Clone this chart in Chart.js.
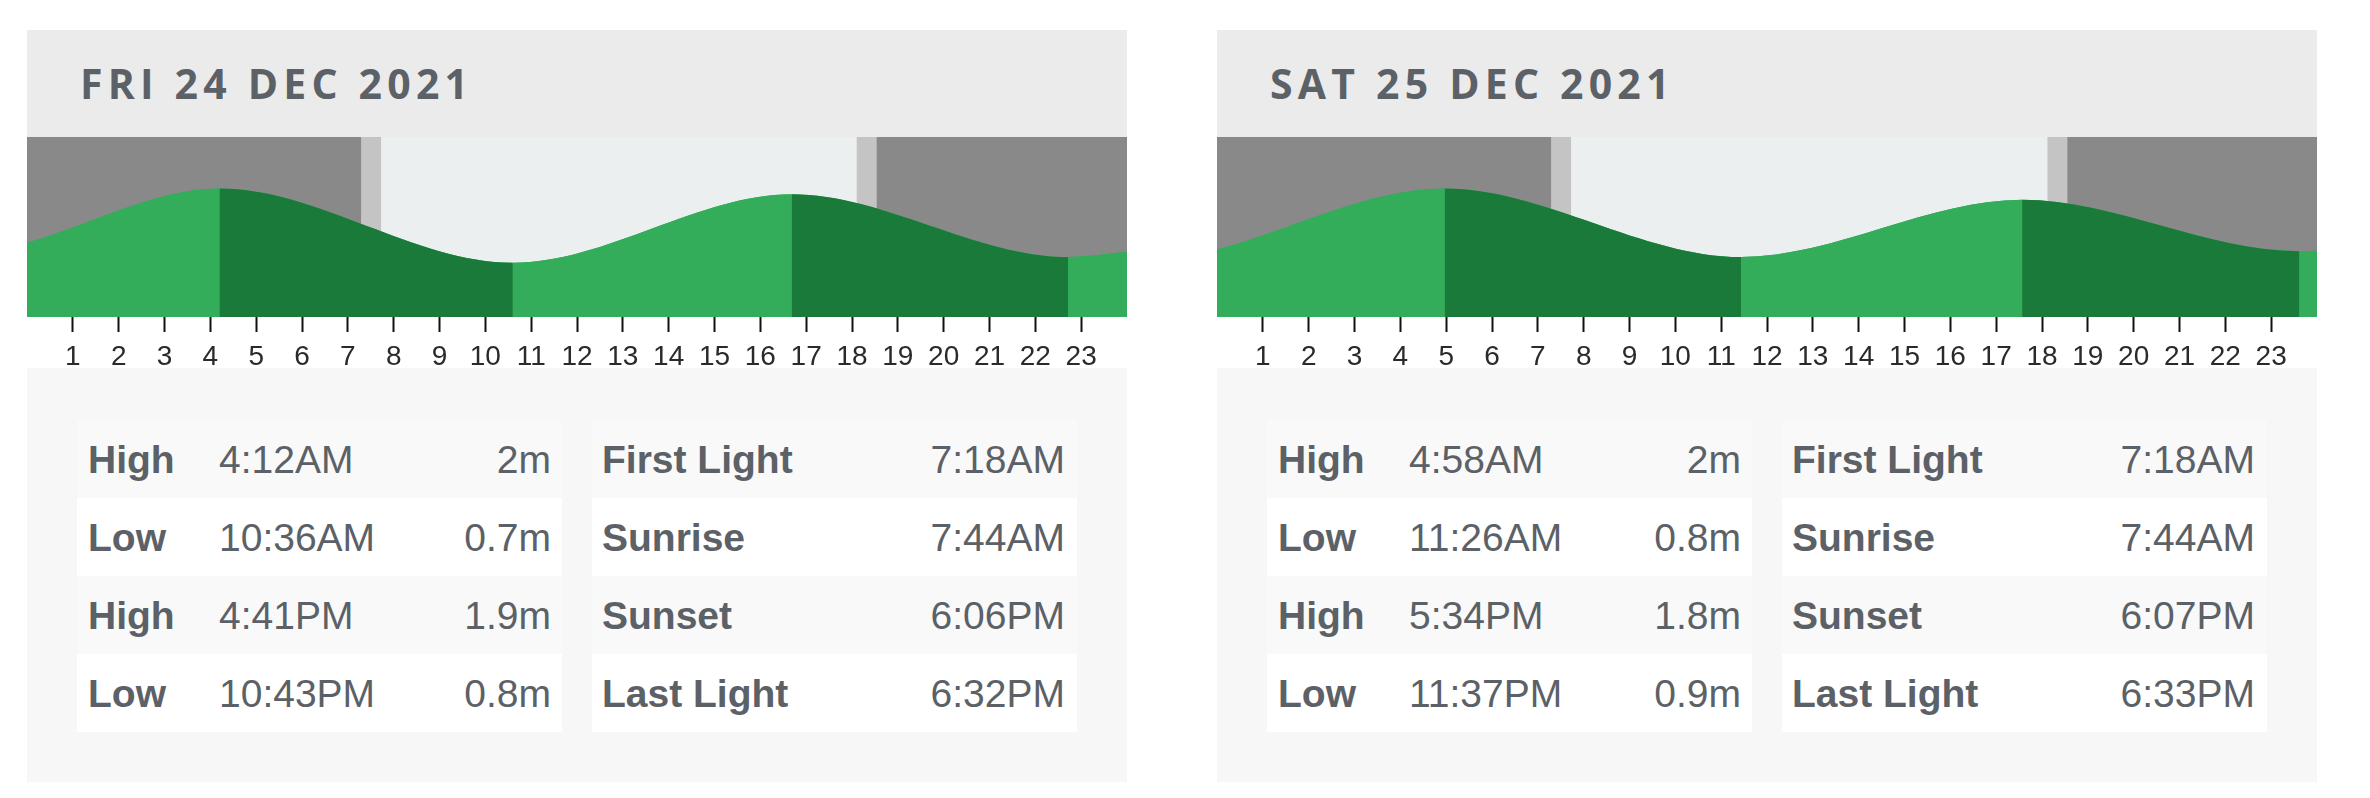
<!DOCTYPE html>
<html>
<head>
<meta charset="utf-8">
<script src="https://cdn.jsdelivr.net/npm/chart.js@4.4.1/dist/chart.umd.min.js"></script>
<style>
  html, body { margin: 0; padding: 0; background: #ffffff; }
  body { width: 2370px; height: 798px; position: relative; overflow: hidden; }
  .panel { position: absolute; top: 30px; width: 1100px; }
  .hdr { height: 107px; background: #ebebeb; display: flex; align-items: center; padding-left: 53px; box-sizing: border-box;
         font-family: "Open Sans", "Noto Sans", sans-serif; font-weight: 700; font-size: 41px; line-height: 1;
         letter-spacing: 5.2px; color: #5b6167; }
  .chartwrap { position: relative; width: 1100px; height: 231px; background: #ffffff; }
  .info { height: 414px; background: #f7f7f7; box-sizing: border-box; padding: 52px 50px 0 50px; display: flex; gap: 30px; }
  .tbl { width: 485px; }
  .row { height: 78px; display: flex; align-items: center; box-sizing: border-box;
         font-family: "Liberation Sans", Arial, sans-serif; font-size: 39px; color: #5b6167; line-height: 1; }
  .row:nth-child(odd) { background: #f9f9f9; }
  .row:nth-child(even) { background: #ffffff; }
  .tide .row { padding: 0 11px 0 11px; }
  .light .row { padding: 0 12px 0 10px; }
  .lbl { font-weight: 700; }
  .tide .lbl { width: 131px; }
  .val { margin-left: auto; }
</style>
</head>
<body>
<script>
// ---------------- DATA ----------------
const dayTitles = ['FRI 24 DEC 2021', 'SAT 25 DEC 2021'];
const tideTypes = ['High', 'Low', 'High', 'Low'];
const friTideTimes = ['4:12AM', '10:36AM', '4:41PM', '10:43PM'];
const friTideHeights = [2, 0.7, 1.9, 0.8];
const satTideTimes = ['4:58AM', '11:26AM', '5:34PM', '11:37PM'];
const satTideHeights = [2, 0.8, 1.8, 0.9];
// tide height at the left (0h) and right (24h) edge of each chart
const friEdgeHeights = [1.05, 0.89];
const satEdgeHeights = [0.93, 0.91];
const lightLabels = ['First Light', 'Sunrise', 'Sunset', 'Last Light'];
const friLightTimes = ['7:18AM', '7:44AM', '6:06PM', '6:32PM'];
const satLightTimes = ['7:18AM', '7:44AM', '6:07PM', '6:33PM'];
const hourTicks = [1,2,3,4,5,6,7,8,9,10,11,12,13,14,15,16,17,18,19,20,21,22,23];
const hourTickLabels = ['1','2','3','4','5','6','7','8','9','10','11','12','13','14','15','16','17','18','19','20','21','22','23'];

// ---------------- STYLE ----------------
const COLORS = {
  night: '#898989', twilight: '#c4c4c4', day: '#eceff0',
  rising: '#34ad5a', falling: '#1a7a3a'
};

function toHours(t) {
  const m = t.match(/(\d+):(\d+)(AM|PM)/);
  let h = parseInt(m[1], 10) % 12;
  if (m[3] === 'PM') h += 12;
  return h + parseInt(m[2], 10) / 60;
}

const dayBands = {
  id: 'dayBands',
  beforeDatasetsDraw(chart, args, opts) {
    const {ctx, chartArea: a, scales: {x}} = chart;
    const t = opts.times.map(toHours);
    const bands = [[0, t[0], COLORS.night], [t[0], t[1], COLORS.twilight], [t[1], t[2], COLORS.day],
                   [t[2], t[3], COLORS.twilight], [t[3], 24, COLORS.night]];
    ctx.save();
    bands.forEach(([s, e, c]) => {
      const x0 = x.getPixelForValue(s), x1 = x.getPixelForValue(e);
      ctx.fillStyle = c;
      ctx.fillRect(x0, a.top, x1 - x0, a.bottom - a.top);
    });
    ctx.restore();
  }
};

function buildPanel(idx, left, tideTimes, tideHeights, edgeHeights, lightTimes) {
  const p = document.createElement('div');
  p.className = 'panel';
  p.style.left = left + 'px';
  const rowsTide = tideTypes.map((ty, i) =>
    `<div class="row"><span class="lbl">${ty}</span><span>${tideTimes[i]}</span><span class="val">${tideHeights[i]}m</span></div>`).join('');
  const rowsLight = lightLabels.map((l, i) =>
    `<div class="row"><span class="lbl">${l}</span><span class="val">${lightTimes[i]}</span></div>`).join('');
  p.innerHTML = `<div class="hdr">${dayTitles[idx]}</div>
    <div class="chartwrap"><canvas id="c${idx}"></canvas></div>
    <div class="info"><div class="tbl tide">${rowsTide}</div><div class="tbl light">${rowsLight}</div></div>`;
  document.body.appendChild(p);

  const pts = [{x: 0, y: edgeHeights[0]}]
    .concat(tideTimes.map((t, i) => ({x: toHours(t), y: tideHeights[i]})))
    .concat([{x: 24, y: edgeHeights[1]}]);

  const common = {
    data: pts,
    fill: 'start',
    cubicInterpolationMode: 'monotone',
    pointRadius: 0,
    borderWidth: 0,
    borderColor: 'rgba(0,0,0,0)'
  };

  new Chart(document.getElementById('c' + idx), {
    type: 'line',
    data: {
      datasets: [
        Object.assign({}, common, {
          backgroundColor: COLORS.rising,
          segment: {
            backgroundColor: c => c.p1.parsed.y > c.p0.parsed.y ? COLORS.rising : COLORS.falling
          }
        }),
        // underlay with the same tide points, hides anti-aliasing seams between segments
        Object.assign({}, common, { backgroundColor: COLORS.rising })
      ]
    },
    options: {
      responsive: true,
      maintainAspectRatio: false,
      animation: false,
      layout: { padding: 0 },
      plugins: { legend: { display: false }, tooltip: { enabled: false }, dayBands: { times: lightTimes } },
      scales: {
        x: {
          type: 'linear', min: 0, max: 24,
          afterBuildTicks: s => { s.ticks = hourTicks.map(v => ({value: v})); },
          afterFit: s => { s.height = 51; },
          border: { display: false },
          grid: { drawOnChartArea: false, drawTicks: true, tickLength: 15, tickColor: '#111111', tickWidth: 2 },
          ticks: {
            autoSkip: false, maxRotation: 0, padding: 11, color: '#2a2a2a',
            font: { family: '"Liberation Sans", Arial, sans-serif', size: 28, lineHeight: 1 },
            callback: v => hourTickLabels[hourTicks.indexOf(v)]
          }
        },
        y: { display: false, min: -0.25, max: 2.9 }
      }
    },
    plugins: [dayBands]
  });
}

buildPanel(0, 27, friTideTimes, friTideHeights, friEdgeHeights, friLightTimes);
buildPanel(1, 1217, satTideTimes, satTideHeights, satEdgeHeights, satLightTimes);
</script>
</body>
</html>
